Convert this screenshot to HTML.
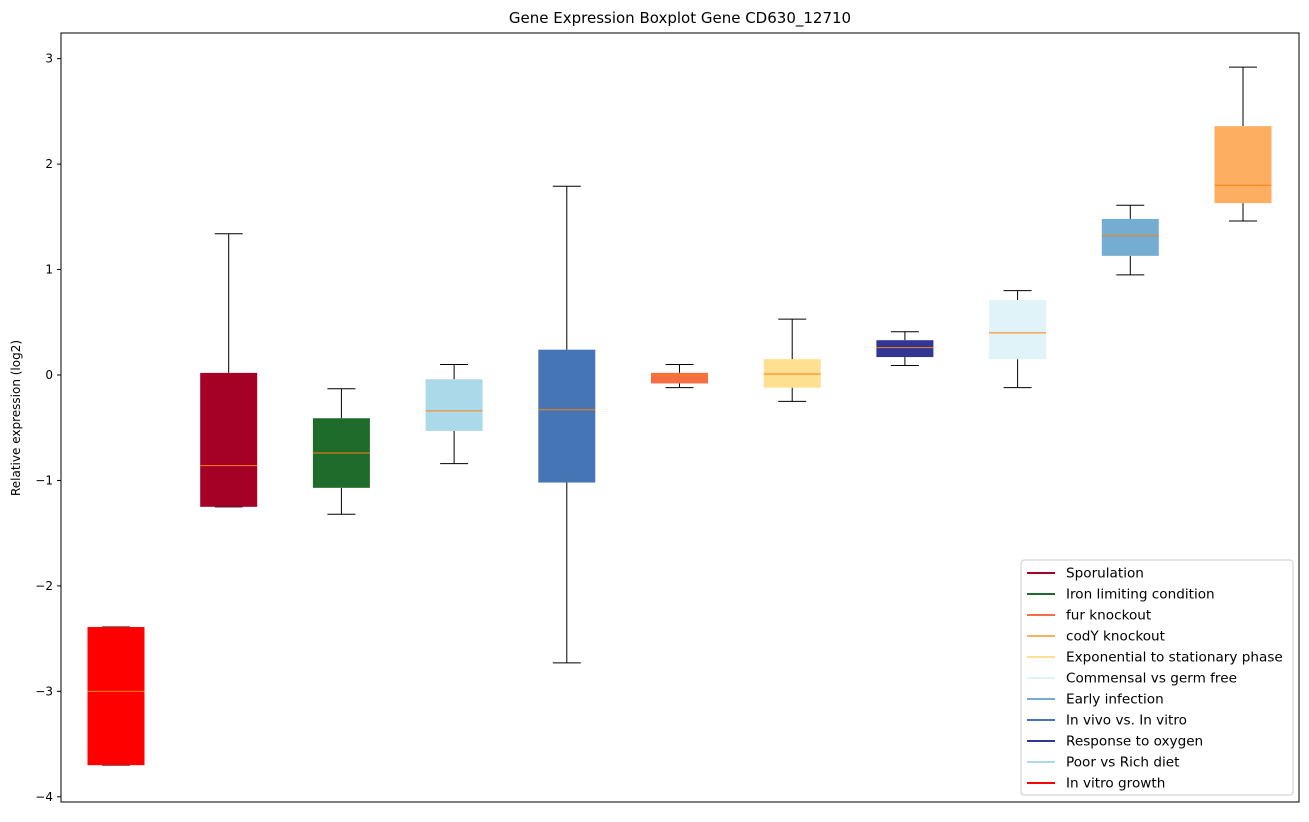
<!DOCTYPE html>
<html><head><meta charset="utf-8"><style>
body{margin:0;background:#fff;font-family:"Liberation Sans","DejaVu Sans",sans-serif;}
svg text{font-family:"DejaVu Sans","Liberation Sans",sans-serif;}
</style></head><body>
<svg id="chart" width="1309" height="817"></svg>
<script>
const categories=["In vitro growth","Sporulation","Iron limiting condition","Poor vs Rich diet","In vivo vs. In vitro","fur knockout","Exponential to stationary phase","Response to oxygen","Commensal vs germ free","Early infection","codY knockout"];
const colors=["#ff0000","#a50026","#1f6b2c","#abd9e9","#4575b4","#f46d43","#fee090","#313695","#e0f3f8","#74add1","#fdae61"];
const whiskerLow=[-3.70,-1.25,-1.32,-0.84,-2.73,-0.12,-0.25,0.09,-0.12,0.95,1.46];
const q1=[-3.70,-1.25,-1.07,-0.53,-1.02,-0.08,-0.12,0.17,0.15,1.13,1.63];
const median=[-3.00,-0.86,-0.74,-0.34,-0.33,0.00,0.01,0.26,0.40,1.32,1.80];
const q3=[-2.39,0.02,-0.41,-0.04,0.24,0.02,0.15,0.33,0.71,1.48,2.36];
const whiskerHigh=[-2.39,1.34,-0.13,0.10,1.79,0.10,0.53,0.41,0.80,1.61,2.92];
const yTicks=[3,2,1,0,-1,-2,-3,-4];
const legendOrder=[1,2,5,10,6,8,9,4,7,3,0];
const NS="http://www.w3.org/2000/svg";
const svg=document.getElementById('chart');
const L=61,R=1299,T=33,B=802;
const y=v=>375-v*105.45;
const x=i=>116+i*112.7;
function mk(tag,a,parent){const e=document.createElementNS(NS,tag);for(const k in a)e.setAttribute(k,a[k]);(parent||svg).appendChild(e);return e;}
let t=mk('text',{x:680,y:23,'text-anchor':'middle','font-size':15});t.textContent="Gene Expression Boxplot Gene CD630_12710";


t=mk('text',{x:20,y:418,'text-anchor':'middle','font-size':12,transform:'rotate(-90 20 418)'});t.textContent="Relative expression (log2)";


yTicks.forEach(v=>{
  mk('line',{x1:L-4,x2:L,y1:y(v),y2:y(v),stroke:'#000'});
  const tx=mk('text',{x:L-8,y:y(v)+4,'text-anchor':'end','font-size':12});
  tx.textContent=(v<0?'\u2212':'')+Math.abs(v);
  
  
});
categories.forEach((c,i)=>{
  const g=mk('g',{});
  
  
  const cx=x(i),hw=28.5,cw=14;
  mk('line',{x1:cx,x2:cx,y1:y(whiskerLow[i]),y2:y(q1[i]),stroke:'#000'},g);
  mk('line',{x1:cx,x2:cx,y1:y(q3[i]),y2:y(whiskerHigh[i]),stroke:'#000'},g);
  mk('line',{x1:cx-cw,x2:cx+cw,y1:y(whiskerLow[i]),y2:y(whiskerLow[i]),stroke:'#000'},g);
  mk('line',{x1:cx-cw,x2:cx+cw,y1:y(whiskerHigh[i]),y2:y(whiskerHigh[i]),stroke:'#000'},g);
  mk('rect',{x:cx-hw,y:y(q3[i]),width:2*hw,height:Math.max(1,y(q1[i])-y(q3[i])),fill:colors[i]},g);
  mk('line',{x1:cx-hw,x2:cx+hw,y1:y(median[i]),y2:y(median[i]),stroke:'#ff7f0e'},g);
});
mk('rect',{x:L,y:T,width:R-L,height:B-T,fill:'none',stroke:'#000'});
const lg=mk('g',{});


mk('rect',{x:1021,y:560,width:272,height:235,fill:'#fff',stroke:'#ccc',rx:3},lg);
legendOrder.forEach((ci,k)=>{
  const ly=573+k*21;
  const e=mk('g',{},lg);
  
  
  mk('line',{x1:1027,x2:1055,y1:ly,y2:ly,stroke:colors[ci],'stroke-width':2},e);
  const tx=mk('text',{x:1066,y:ly+4.5,'font-size':13.6},e);tx.textContent=categories[ci];
});
</script>
</body></html>
